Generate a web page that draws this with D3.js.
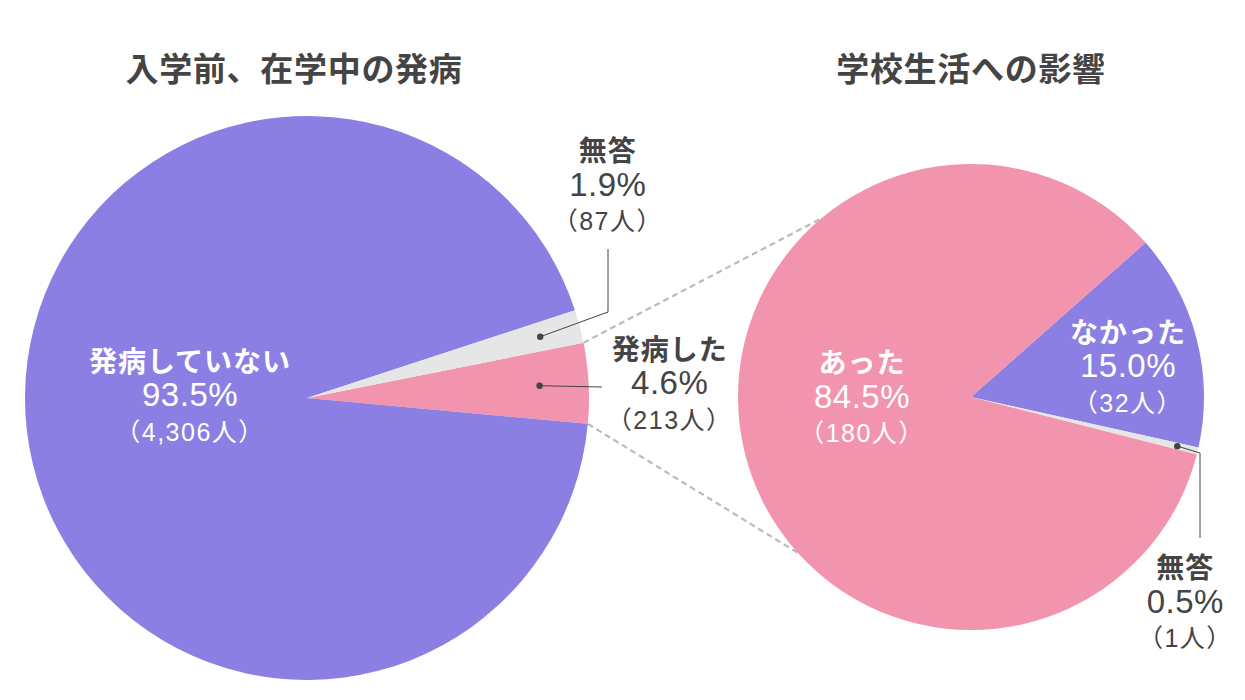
<!DOCTYPE html>
<html>
<head>
<meta charset="utf-8">
<script src="https://cdn.jsdelivr.net/npm/d3@7"></script>
<style>
  body { margin: 0; background: #fff; }
  text { font-family: "Liberation Sans", "Noto Sans CJK JP", sans-serif; }
  .name { font-family: "Noto Sans CJK JP", sans-serif; font-weight: 700; }
  .title { font-family: "Noto Sans CJK JP", sans-serif; font-weight: 700; fill: #444; }
</style>
</head>
<body>
<div id="chart"></div>
<script>
// left pie: 入学前、在学中の発病
var leftTitle = "入学前、在学中の発病";
var leftNames = ["発病した", "発病していない", "無答"];
var leftValues = [4.6, 93.5, 1.9];
var leftCounts = [213, 4306, 87];

// right pie: 学校生活への影響
var rightTitle = "学校生活への影響";
var rightNames = ["なかった", "無答", "あった"];
var rightValues = [15.0, 0.5, 84.5];
var rightCounts = [32, 1, 180];

var colors = {
  "発病した": "#f294ad", "発病していない": "#8b7fe3", "無答": "#e6e6e6",
  "あった": "#f294ad", "なかった": "#8b7fe3"
};

const W = 1245, H = 700,
      textDark = "#444";

const deg = Math.PI / 180;

const left = {cx: 307, cy: 398, r: 282, start: 78.7},
      right = {cx: 971, cy: 397, r: 233, start: 48.5};

const svg = d3.select("#chart").append("svg")
  .attr("width", W)
  .attr("height", H);

var makeRows = function(names, values, counts) {
  return names.map(function(n, i){
    return {name: n, value: values[i], count: counts[i]};
  });
}

var leftRows = makeRows(leftNames, leftValues, leftCounts);
var rightRows = makeRows(rightNames, rightValues, rightCounts);

var pieFor = function(p) {
  return d3.pie()
    .sort(null)
    .value(function(d){ return d.value; })
    .startAngle(p.start * deg)
    .endAngle(p.start * deg + 2 * Math.PI);
}

var leftArcs = pieFor(left)(leftRows);
var rightArcs = pieFor(right)(rightRows);

var polar = function(p, angle, r) {
  return [p.cx + r * Math.sin(angle), p.cy - r * Math.cos(angle)];
}

// dashed connectors from the pink slice to the right pie
var pinkArc = leftArcs[0];
var connectors = [
  [polar(left, pinkArc.startAngle, left.r), polar(right, 320 * deg, right.r)],
  [polar(left, pinkArc.endAngle, left.r), polar(right, 228 * deg, right.r)]
];
svg.selectAll(".connector")
  .data(connectors)
  .join("line")
    .attr("class", "connector")
    .attr("x1", function(d){ return d[0][0]; })
    .attr("y1", function(d){ return d[0][1]; })
    .attr("x2", function(d){ return d[1][0]; })
    .attr("y2", function(d){ return d[1][1]; })
    .attr("stroke", "#bbbbbb")
    .attr("stroke-width", 2.2)
    .attr("stroke-dasharray", "6,4");

var drawPie = function(p, arcs) {
  const arc = d3.arc().innerRadius(0).outerRadius(p.r);
  svg.append("g")
    .attr("transform", "translate(" + p.cx + "," + p.cy + ")")
    .selectAll("path")
    .data(arcs)
    .join("path")
      .attr("d", arc)
      .attr("fill", function(d){ return colors[d.data.name]; });
}

drawPie(left, leftArcs);
drawPie(right, rightArcs);

// titles
[[leftTitle, 294], [rightTitle, 971]].forEach(function(t){
  svg.append("text").attr("class", "title")
    .attr("x", t[1]).attr("y", 67)
    .attr("text-anchor", "middle").attr("dominant-baseline", "central")
    .style("font-size", "33px")
    .style("letter-spacing", "0.7px")
    .text(t[0]);
});

var drawLabel = function(x, y, d, fill) {
  const g = svg.append("g")
    .attr("transform", "translate(" + x + "," + y + ")")
    .attr("fill", fill)
    .attr("text-anchor", "middle");
  g.append("text").attr("class", "name")
    .attr("y", -35)
    .attr("dominant-baseline", "central")
    .style("font-size", "28px")
    .style("letter-spacing", "1px")
    .text(d.name);
  g.append("text")
    .attr("y", 0)
    .attr("dominant-baseline", "central")
    .style("font-size", "33px")
    .style("letter-spacing", "0.5px")
    .text(d3.format(".1f")(d.value) + "%");
  g.append("text")
    .attr("y", 37)
    .attr("dominant-baseline", "central")
    .style("font-size", "25px")
    .style("letter-spacing", "1.5px")
    .text("（" + d3.format(",")(d.count) + "人）");
}

// label positions (polar offsets from the pie centre) and leader elbows
var labelLayout = {
  left: [
    {angle: 87.6, r: 363, dot: 0.826, elbow: [602, 387], end: null},
    {angle: 271.5, r: 117},
    {angle: 54.6, r: 369, dot: 0.855, elbow: [608, 312], end: [608, 249]}
  ],
  right: [
    {angle: 78.8, r: 160},
    {angle: 133.6, r: 296, dot: 0.91, elbow: [1200, 453], end: [1200, 538]},
    {angle: 270.5, r: 109}
  ]
};

var drawLabels = function(p, arcs, layout) {
  arcs.forEach(function(a, i){
    const L = layout[i];
    const pos = polar(p, L.angle * deg, L.r);
    const outside = !!L.elbow;
    if (outside) {
      const mid = (a.startAngle + a.endAngle) / 2;
      const dot = polar(p, mid, p.r * L.dot);
      const pts = [dot, L.elbow];
      if (L.end) pts.push(L.end);
      svg.append("path")
        .attr("d", d3.line()(pts))
        .attr("fill", "none")
        .attr("stroke", textDark)
        .attr("stroke-width", 1);
      svg.append("circle")
        .attr("cx", dot[0]).attr("cy", dot[1])
        .attr("r", 3.2)
        .attr("fill", textDark);
    }
    drawLabel(pos[0], pos[1], a.data, outside ? textDark : "#fff");
  });
}

drawLabels(left, leftArcs, labelLayout.left);
drawLabels(right, rightArcs, labelLayout.right);
</script>
</body>
</html>
